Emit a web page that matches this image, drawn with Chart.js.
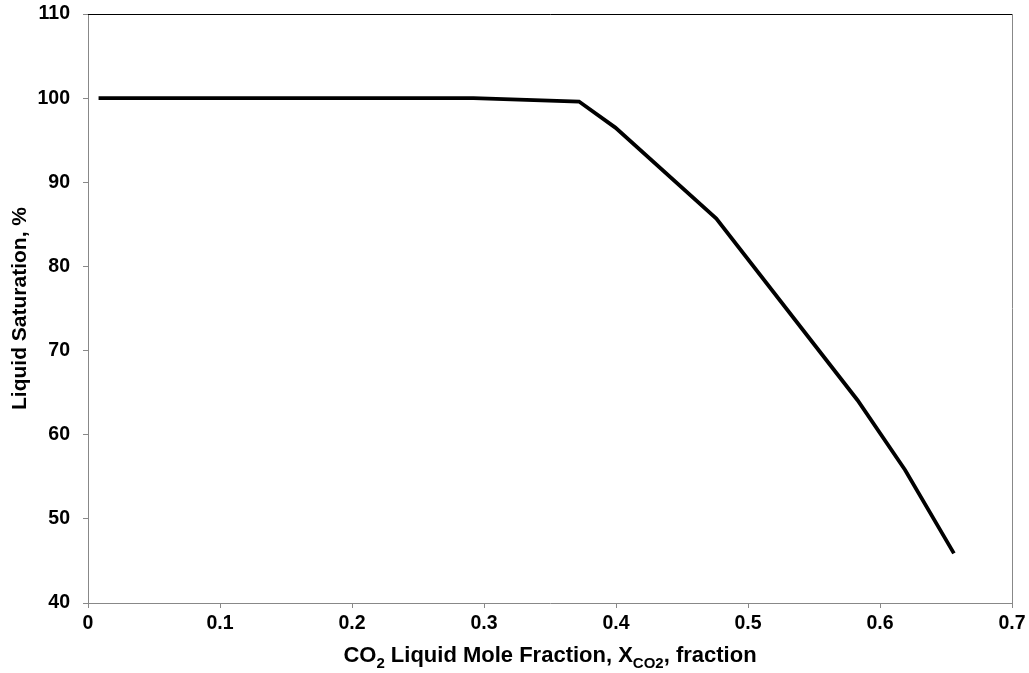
<!DOCTYPE html>
<html>
<head>
<meta charset="utf-8">
<script src="https://cdn.jsdelivr.net/npm/chart.js@4"></script>
<style>
  html, body { margin: 0; padding: 0; background: #fff; }
  #wrap { width: 1029px; height: 673px; }
</style>
</head>
<body>
<div id="wrap"><canvas id="satChart"></canvas></div>
<script>
// values
const xCO2 = [0.008, 0.1, 0.2, 0.292, 0.372, 0.3995, 0.476, 0.583, 0.619, 0.656];
const liquidSat = [100, 100, 100, 100, 99.6, 96.5, 85.7, 64.1, 55.8, 45.9];
const xTicks = [0, 0.1, 0.2, 0.3, 0.4, 0.5, 0.6, 0.7];
const yTicks = [40, 50, 60, 70, 80, 90, 100, 110];

const points = xCO2.map((x, i) => ({ x: x, y: liquidSat[i] }));
const FONT = '"Liberation Sans", Arial, sans-serif';

// frame around plot area + x title with subscripts
const framePlugin = {
    id: 'frame',
    afterDraw(chart) {
        const { ctx, chartArea: a } = chart;
        ctx.save();
        ctx.lineWidth = 1;
        ctx.beginPath();
        ctx.strokeStyle = '#000';
        ctx.moveTo(a.left, a.top + 0.5);
        ctx.lineTo(a.right + 0.5, a.top + 0.5);
        ctx.stroke();
        ctx.beginPath();
        ctx.strokeStyle = '#888';
        ctx.moveTo(a.right + 0.5, a.top);
        ctx.lineTo(a.right + 0.5, a.bottom);
        ctx.stroke();

        // x axis title
        const parts = [
            ['CO', 22, 0], ['2', 15, 6], [' Liquid Mole Fraction, X', 22, 0],
            ['CO2', 15, 6], [', fraction', 22, 0]
        ];
        let total = 0;
        parts.forEach(p => { ctx.font = 'bold ' + p[1] + 'px ' + FONT; total += ctx.measureText(p[0]).width; });
        let x = (a.left + a.right) / 2 - total / 2;
        const base = 662;
        ctx.fillStyle = '#000';
        ctx.textBaseline = 'alphabetic';
        ctx.textAlign = 'left';
        parts.forEach(p => {
            ctx.font = 'bold ' + p[1] + 'px ' + FONT;
            ctx.fillText(p[0], x, base + p[2]);
            x += ctx.measureText(p[0]).width;
        });
        ctx.restore();
    }
};

new Chart(document.getElementById('satChart'), {
    type: 'line',
    data: {
        datasets: [{
            data: points,
            borderColor: '#000',
            borderWidth: 3.8,
            pointRadius: 0,
            fill: false,
            tension: 0
        }]
    },
    options: {
        responsive: true,
        maintainAspectRatio: false,
        animation: false,
        layout: { padding: { top: 14, right: 17, left: 0, bottom: 0 } },
        plugins: { legend: { display: false }, tooltip: { enabled: false } },
        scales: {
            x: {
                type: 'linear',
                min: 0, max: 0.7,
                afterBuildTicks: axis => { axis.ticks = xTicks.map(v => ({ value: v })); },
                afterFit: axis => { axis.height = 70; axis.paddingLeft = 0; axis.paddingRight = 0; },
                ticks: {
                    color: '#000',
                    font: { family: FONT, size: 19.5, weight: 'bold' },
                    padding: 4,
                    maxRotation: 0,
                    callback: v => String(Math.round(v * 10) / 10)
                },
                grid: { drawOnChartArea: false, tickLength: 5, color: '#888' },
                border: { color: '#888', width: 1 }
            },
            y: {
                min: 40, max: 110,
                afterBuildTicks: axis => { axis.ticks = yTicks.map(v => ({ value: v })); },
                afterFit: axis => { axis.width = 88; axis.paddingTop = 0; axis.paddingBottom = 0; },
                ticks: {
                    color: '#000',
                    font: { family: FONT, size: 19.5, weight: 'bold' },
                    padding: 13
                },
                grid: { drawOnChartArea: false, tickLength: 5, color: '#888' },
                border: { color: '#888', width: 1 },
                title: {
                    display: true,
                    text: 'Liquid Saturation, %',
                    color: '#000',
                    font: { family: FONT, size: 21, weight: 'bold' },
                    padding: { top: 8, bottom: 0 }
                }
            }
        }
    },
    plugins: [framePlugin]
});
</script>
</body>
</html>
